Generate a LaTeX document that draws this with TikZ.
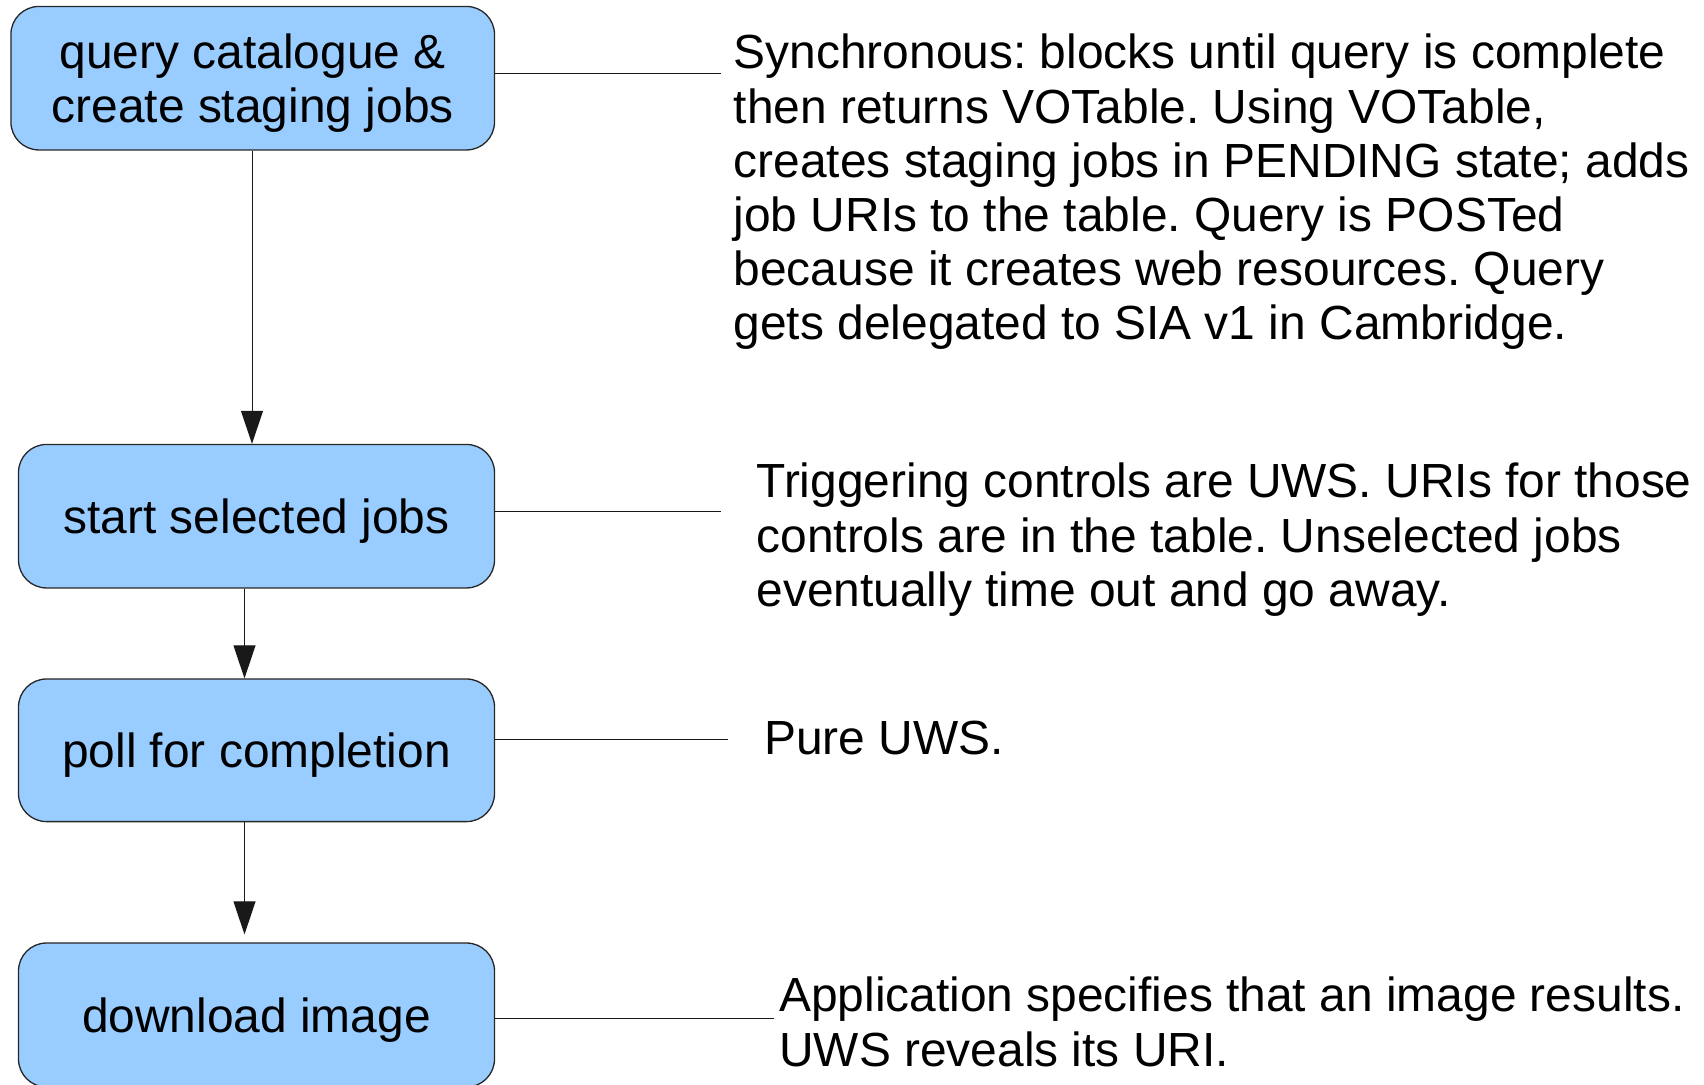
\documentclass[tikz,border=0pt]{standalone}
\usepackage{fontspec}
\setmainfont{Liberation Sans}
\usetikzlibrary{arrows.meta}
\definecolor{boxblue}{HTML}{99CCFF}
\frenchspacing
\begin{document}
\begin{tikzpicture}[x=1pt,y=-1pt,
  stepbox/.style={draw=black!85, line width=1.3pt, fill=boxblue, rounded corners=28pt,
     minimum height=143.5pt, inner sep=0pt, align=center, text depth=0pt,
     font=\fontsize{47.9}{54.1}\selectfont\frenchspacing},
  note/.style={anchor=north west, inner sep=0pt, align=left,
     font=\fontsize{47.9}{54.1}\selectfont\frenchspacing},
  link/.style={line width=1pt, black!90},
  flow/.style={line width=1pt, black!90, -{Triangle[length=33pt,width=22pt]}}]
\useasboundingbox (0,0) rectangle (1704,1084);

\node[stepbox, minimum width=483.6pt] (b1) at (252.7,78.2) {query catalogue \&\\create staging jobs};
\node[stepbox, minimum width=476pt] (b2) at (256.5,516.2) {start selected jobs};
\node[stepbox, minimum width=476pt, minimum height=142.6pt] (b3) at (256.5,750.3) {poll for completion};
\node[stepbox, minimum width=476pt, minimum height=144pt] (b4) at (256.5,1015) {download image};

\node[note] (t1) at (733.5,34) {Synchronous: blocks until query is complete\\then returns VOTable. Using VOTable,\\creates staging jobs in PENDING state; adds\\job URIs to the table. Query is POSTed\\because it creates web resources. Query\\gets delegated to SIA v1 in Cambridge.};
\node[note] (t2) at (756.3,463) {Triggering controls are UWS. URIs for those\\controls are in the table. Unselected jobs\\eventually time out and go away.};
\node[note] (t3) at (764,720.7) {Pure UWS.};
\node[note] (t4) at (779,977) {Application specifies that an image results.\\UWS reveals its URI.};

\coordinate (e1) at (720.5,73.9);
\coordinate (e2) at (720.5,511.8);
\coordinate (e3) at (728,739);
\coordinate (e4) at (773.7,1018);

\draw[link] (b1.east |- e1) -- (e1);
\draw[link] (b2.east |- e2) -- (e2);
\draw[link] (b3.east |- e3) -- (e3);
\draw[link] (b4.east |- e4) -- (e4);

\draw[flow] ([xshift=-0.7pt]b1.south) -- ([xshift=-4.5pt]b2.north);
\draw[flow] ([xshift=-12pt]b2.south) -- ([xshift=-12pt]b3.north);
\draw[flow] ([xshift=-12pt]b3.south) -- ([xshift=-12pt,yshift=8pt]b4.north);
\end{tikzpicture}
\end{document}
